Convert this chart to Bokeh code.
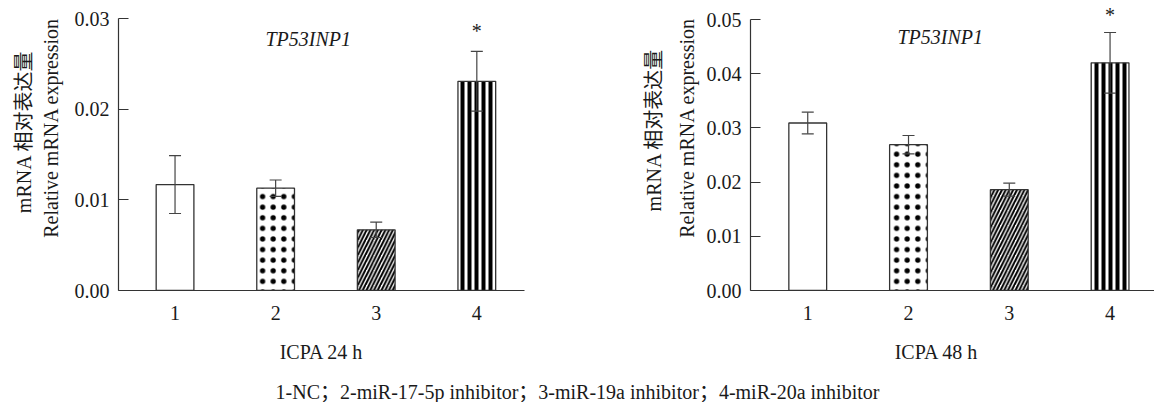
import math
from bokeh.plotting import figure
from bokeh.models import (Range1d, FixedTicker, PrintfTickFormatter, Whisker, TeeHead,
                          ColumnDataSource, Label)
from bokeh.layouts import column, row
from bokeh.embed import file_html
from bokeh.resources import INLINE

# ---------------- data ----------------
groups = [1, 2, 3, 4]
group_labels = ["1", "2", "3", "4"]
mean_24h = [0.0117, 0.0113, 0.0067, 0.0231]
err_24h = [0.0032, 0.0009, 0.00085, 0.0033]
mean_48h = [0.0309, 0.0269, 0.0186, 0.0420]
err_48h = [0.0020, 0.0017, 0.0012, 0.0056]
significant = [False, False, False, True]
yticks_24h = [0.0, 0.01, 0.02, 0.03]
yticks_48h = [0.0, 0.01, 0.02, 0.03, 0.04, 0.05]
gene = "TP53INP1"
xlabel_24h = "ICPA 24 h"
xlabel_48h = "ICPA 48 h"
ylabel_cn = "mRNA 相对表达量"
ylabel_en = "Relative mRNA expression"
caption = "1-NC；2-miR-17-5p inhibitor；3-miR-19a inhibitor；4-miR-20a inhibitor"

# ---------------- styles ----------------
FONT = "Liberation Serif, Noto Sans CJK SC, serif"
TXT = "#1a1a1a"
AX = "#333333"
patterns = [" ", ".", "/", "|"]
pat_scale = [10, 10.6, 7.5, 7]
pat_weight = [1, 2.7, 2, 4]
H = 330          # height of the two chart panels


def text_fig(width, height):
    f = figure(width=width, height=height, x_range=Range1d(0, width), y_range=Range1d(0, height),
               output_backend="svg", toolbar_location=None,
               x_axis_location=None, y_axis_location=None, min_border=0)
    f.xgrid.visible = False
    f.ygrid.visible = False
    f.outline_line_color = None
    return f


def add_text(f, x, y, text, angle=0.0, align="center"):
    f.add_layout(Label(x=x, y=y, text=text, angle=angle, text_font=FONT,
                       text_font_size="20px", text_color=TXT,
                       text_align=align, text_baseline="middle"))


def panel(means, errs, yticks, width, border_left, border_right, x0, x1, y_end, offs):
    p = figure(width=width, height=H, x_range=Range1d(x0, x1), y_range=Range1d(0, y_end),
               output_backend="svg", toolbar_location=None,
               min_border_left=border_left, min_border_right=border_right,
               min_border_top=0, min_border_bottom=H - 290)
    p.xgrid.visible = False
    p.ygrid.visible = False
    p.outline_line_color = None
    p.background_fill_color = "white"
    p.border_fill_color = "white"

    src = ColumnDataSource(dict(
        x=groups, top=means,
        upper=[m + e for m, e in zip(means, errs)],
        lower=[m - e for m, e in zip(means, errs)],
        pat=patterns, hs=pat_scale, hw=pat_weight))

    p.vbar(x="x", top="top", bottom=0, width=0.375, source=src,
           fill_color="white", line_color=AX, line_width=1.3,
           hatch_pattern="pat", hatch_scale="hs", hatch_weight="hw",
           hatch_color="black")

    w = Whisker(base="x", upper="upper", lower="lower", source=src,
                line_color="#444444", line_width=1.2, level="annotation",
                upper_head=TeeHead(size=12, line_color="#444444", line_width=1.2),
                lower_head=TeeHead(size=12, line_color="#444444", line_width=1.2))
    p.add_layout(w)

    xa = p.xaxis[0]
    xa.ticker = FixedTicker(ticks=groups)
    xa.major_label_overrides = {g: l for g, l in zip(groups, group_labels)}
    xa.major_tick_line_color = None
    xa.minor_tick_line_color = None
    xa.axis_line_color = AX
    xa.axis_line_width = 1.2
    xa.major_label_standoff = 9
    xa.major_label_text_font = FONT
    xa.major_label_text_font_size = "20px"
    xa.major_label_text_color = TXT

    ya = p.yaxis[0]
    ya.ticker = FixedTicker(ticks=yticks)
    ya.formatter = PrintfTickFormatter(format="%.2f")
    ya.bounds = (yticks[0], yticks[-1])
    ya.major_tick_in = 10
    ya.major_tick_out = 0
    ya.minor_tick_line_color = None
    ya.axis_line_color = AX
    ya.axis_line_width = 1.2
    ya.major_tick_line_color = AX
    ya.major_tick_line_width = 1.2
    ya.major_label_standoff = 9
    ya.major_label_text_font = FONT
    ya.major_label_text_font_size = "20px"
    ya.major_label_text_color = TXT

    common = dict(text_font=FONT, text_font_size="20px", text_color=TXT,
                  text_baseline="middle")
    p.add_layout(Label(x=x0, y=0, x_offset=offs["title"][0], y_offset=offs["title"][1],
                       text=gene, text_font_style="italic", text_align="left", **common))
    for g, m, e, s in zip(groups, means, errs, significant):
        if s:
            p.add_layout(Label(x=g, y=m + e, y_offset=offs["star"], text="*",
                               text_align="center", **common))
    return p


# left y-label strip (rotated text starts at its lower end)
yl1 = text_fig(66, H)
add_text(yl1, 23, H - 242, ylabel_cn, angle=math.pi / 2, align="left")
add_text(yl1, 50, H - 270, ylabel_en, angle=math.pi / 2, align="left")

p1 = panel(mean_24h, err_24h, yticks_24h, width=514, border_left=52, border_right=56,
           x0=0.438, x1=4.474, y_end=yticks_24h[-1] * 290 / 271.7,
           offs=dict(title=(147, 252), star=20))

# right y-label strip
yl2 = text_fig(120, H)
add_text(yl2, 73, H - 240, ylabel_cn, angle=math.pi / 2, align="left")
add_text(yl2, 106, H - 270, ylabel_en, angle=math.pi / 2, align="left")

p2 = panel(mean_48h, err_48h, yticks_48h, width=454, border_left=50, border_right=0,
           x0=0.432, x1=4.441, y_end=yticks_48h[-1] * 290 / 271.0,
           offs=dict(title=(147, 254), star=18))

# bottom strip: x-axis titles and caption
BH = 72
bottom = text_fig(1154, BH)
add_text(bottom, 321, BH - 21, xlabel_24h)
add_text(bottom, 936, BH - 21, xlabel_48h)
add_text(bottom, 577, BH - 61, caption)

layout = column(row(yl1, p1, yl2, p2), bottom)
open("out.html", "w").write(file_html(layout, INLINE))
